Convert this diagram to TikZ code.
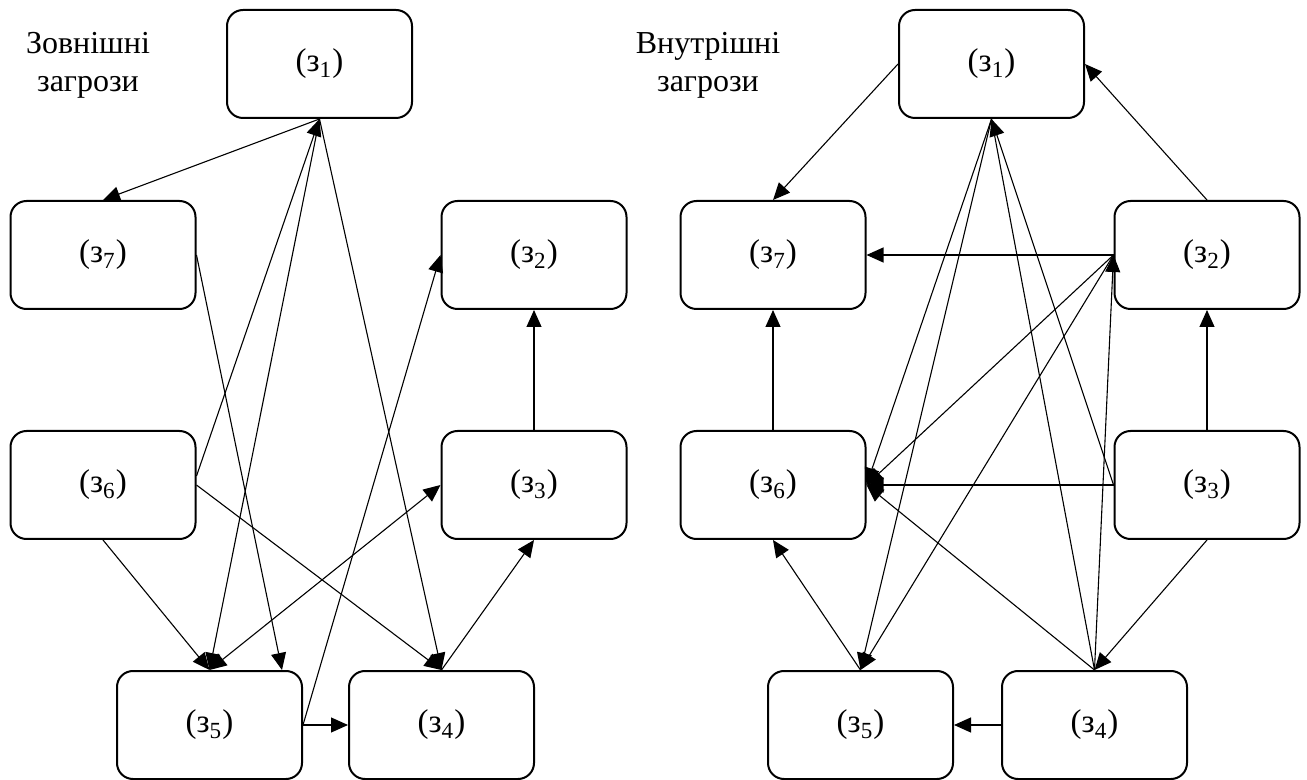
\documentclass[tikz,border=0pt]{standalone}
\usepackage{fontspec}
\setmainfont{Liberation Serif}
\usetikzlibrary{arrows.meta}
\begin{document}
\begin{tikzpicture}[x=.5pt,y=-.5pt,>={Triangle[length=8.5pt,width=7.5pt]},
  threat/.style={draw,line width=1pt,rounded corners=8pt,minimum width=92.5pt,minimum height=54pt,inner sep=0pt,font=\fontsize{16.5}{19}\selectfont},
  conn/.style={line width=.55pt,->},
  title/.style={align=center,font=\fontsize{16}{19}\selectfont}]
\useasboundingbox(0,0)rectangle(1307,780);
% left: external threats
\node[title](exTitle)at(88,65){Зовнішні\\загрози};
\foreach \n/\x/\y in {1/319.5/64,2/534/255,3/534/485,4/441.5/725,5/209.5/725,6/103/485,7/103/255}
  \node[threat](ex\n)at(\x,\y){(з\textsubscript{\n})};
\foreach \a/\b in {ex1.south/ex7.north,ex1.south/ex5.north,ex1.south/ex4.north,ex5.east/ex2.west,ex5.east/ex4.west,
  ex3.north/ex2.south,ex6.south/ex5.north,ex6.east/ex4.north,ex4.north/ex3.south}
  \draw[conn](\a)--(\b);
\draw[conn]([yshift=4.5pt]ex6.east)--(ex1.south);
\draw[conn](ex7.east)--([xshift=-10.5pt]ex5.north east);
\draw[conn,<->](ex3.west)--(ex5.north);
% right: internal threats
\node[title](inTitle)at(708,65){Внутрішні\\загрози};
\foreach \n/\x/\y in {1/991.5/64,2/1207/255,3/1207/485,4/1094.5/725,5/860.5/725,6/773/485,7/773/255}
  \node[threat](in\n)at(\x,\y){(з\textsubscript{\n})};
\foreach \a/\b in {in1.west/in7.north,in2.north/in1.east,in2.west/in7.east,in3.north/in2.south,in6.north/in7.south,
  in3.west/in6.east,in4.north/in6.east,in2.west/in6.east,in1.south/in6.east,in4.north/in2.west,in2.west/in5.north,
  in1.south/in5.north,in3.west/in1.south,in3.south/in4.north,in5.north/in6.south,in4.west/in5.east}
  \draw[conn](\a)--(\b);
\draw[line width=.55pt](in1.south)--(in4.north);
\end{tikzpicture}
\end{document}
